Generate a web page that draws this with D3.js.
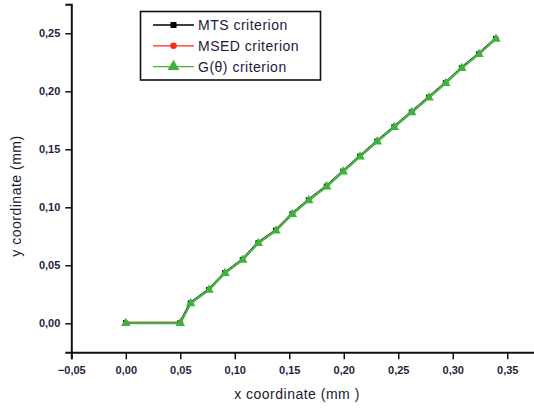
<!DOCTYPE html>
<html>
<head>
<meta charset="utf-8">
<script src="https://cdn.jsdelivr.net/npm/d3@7/dist/d3.min.js"></script>
<style>
  html, body { margin: 0; padding: 0; background: #fff; }
  svg { display: block; }
  .tick text { font-family: "Liberation Sans", Arial, sans-serif; font-weight: bold; font-size: 11px; fill: #1f1f3f; }
</style>
</head>
<body>
<svg id="chart" width="534" height="408"></svg>
<script>
// Crack path coordinates (mm) predicted by each criterion
const seriesNames = ["MTS criterion", "MSED criterion", "G(\u03b8) criterion"];
const mtsX  = [-0.0008, 0.0492, 0.0587, 0.0755, 0.0902, 0.1064, 0.1208, 0.137, 0.152, 0.167, 0.1835, 0.1987, 0.2141, 0.2299, 0.2455, 0.2615, 0.2774, 0.2927, 0.3074, 0.3232, 0.3388];
const mtsY  = [0.0009, 0.0009, 0.018, 0.0296, 0.044, 0.0555, 0.0699, 0.0807, 0.0949, 0.1068, 0.1187, 0.1316, 0.1445, 0.1575, 0.1699, 0.1826, 0.1954, 0.2078, 0.2207, 0.2328, 0.246];
const msedX = [0.0008, 0.0508, 0.0603, 0.0771, 0.0918, 0.108, 0.1224, 0.1386, 0.1536, 0.1686, 0.1851, 0.2003, 0.2157, 0.2315, 0.2471, 0.2631, 0.279, 0.2943, 0.309, 0.3248, 0.3404];
const msedY = [0.0008, 0.0008, 0.0179, 0.0295, 0.0439, 0.0554, 0.0698, 0.0806, 0.0948, 0.1067, 0.1186, 0.1315, 0.1444, 0.1574, 0.1698, 0.1825, 0.1953, 0.2077, 0.2206, 0.2327, 0.2459];
const gX    = [0, 0.05, 0.0595, 0.0763, 0.091, 0.1072, 0.1216, 0.1378, 0.1528, 0.1678, 0.1843, 0.1995, 0.2149, 0.2307, 0.2463, 0.2623, 0.2782, 0.2935, 0.3082, 0.324, 0.3396];
const gY    = [0, 0, 0.0171, 0.0287, 0.0431, 0.0546, 0.069, 0.0798, 0.094, 0.1059, 0.1178, 0.1307, 0.1436, 0.1566, 0.169, 0.1817, 0.1945, 0.2069, 0.2198, 0.2319, 0.2451];
const xTicks = [-0.05, 0, 0.05, 0.10, 0.15, 0.20, 0.25, 0.30, 0.35];
const yTicks = [0, 0.05, 0.10, 0.15, 0.20, 0.25];
const xLabel = "x coordinate (mm )";
const yLabel = "y coordinate (mm)";

const svg = d3.select("#chart");
const x = d3.scaleLinear().domain([-0.05, 0.375]).range([71.3, 534.5]);
const y = d3.scaleLinear().domain([-0.025, 0.275]).range([352.3, 4.3]);
const fmt = d => d3.format(".2f")(d).replace(".", ",");

// minor ticks
const xMinor = d3.range(-0.025, 0.375, 0.05);
const yMinor = d3.range(0.025, 0.275, 0.05);

const gx = svg.append("g").attr("transform", `translate(0,${y(-0.025)})`);
gx.call(d3.axisBottom(x).tickValues(xMinor).tickSize(4).tickFormat(""));
gx.call(d3.axisBottom(x).tickValues(xTicks).tickSize(7).tickPadding(7).tickFormat(fmt));
gx.selectAll(".domain").attr("stroke", "#111").attr("stroke-width", 2);
gx.selectAll("line").attr("stroke", "#111").attr("stroke-width", 1.5);

const gy = svg.append("g").attr("transform", `translate(${x(-0.05)},0)`);
gy.call(d3.axisLeft(y).tickValues(yMinor).tickSize(4).tickFormat(""));
gy.call(d3.axisLeft(y).tickValues(yTicks).tickSize(6).tickPadding(5).tickFormat(fmt));
gy.selectAll(".domain").attr("stroke", "#111").attr("stroke-width", 2);
gy.selectAll("line").attr("stroke", "#111").attr("stroke-width", 1.5);

// axis titles
svg.append("text")
  .attr("x", 297).attr("y", 399)
  .attr("text-anchor", "middle")
  .style("font-family", "Liberation Sans, Arial, sans-serif")
  .style("font-size", "14px").style("letter-spacing", "0.5px")
  .attr("fill", "#1a1a2e")
  .text(xLabel);
svg.append("text")
  .attr("transform", "translate(21,196) rotate(-90)")
  .attr("text-anchor", "middle")
  .style("font-family", "Liberation Sans, Arial, sans-serif")
  .style("font-size", "14px").style("letter-spacing", "0.5px")
  .attr("fill", "#1a1a2e")
  .text(yLabel);

const series = [
  { xs: mtsX,  ys: mtsY,  color: "#000000", shape: "square",   width: 0.8 },
  { xs: msedX, ys: msedY, color: "#ff2a1a", shape: "circle",   width: 0.8 },
  { xs: gX,    ys: gY,    color: "#3cb43c", shape: "triangle", width: 2.0 }
];

const line = d3.line().x(d => x(d[0])).y(d => y(d[1]));
const symbolOf = (shape, size) => {
  const t = shape === "square" ? d3.symbolSquare : shape === "circle" ? d3.symbolCircle : d3.symbolTriangle;
  return d3.symbol().type(t).size(size)();
};
const markSize = { square: 16, circle: 14, triangle: 40 };

series.forEach(s => {
  const pts = s.xs.map((v, i) => [v, s.ys[i]]);
  svg.append("path").datum(pts)
    .attr("fill", "none").attr("stroke", s.color).attr("stroke-width", s.width)
    .attr("d", line);
  svg.append("g").selectAll("path").data(pts).join("path")
    .attr("transform", d => `translate(${x(d[0])},${y(d[1])})`)
    .attr("d", symbolOf(s.shape, markSize[s.shape]))
    .attr("fill", s.color);
});

// legend
const lg = svg.append("g");
lg.append("rect").attr("x", 140.5).attr("y", 11.5).attr("width", 180).attr("height", 68.5)
  .attr("fill", "#fff").attr("stroke", "#111").attr("stroke-width", 1.6);
const legendSize = { square: 36, circle: 34, triangle: 60 };
series.forEach((s, i) => {
  const ly = 25 + i * 20.8;
  lg.append("line").attr("x1", 153).attr("x2", 194).attr("y1", ly).attr("y2", ly)
    .attr("stroke", s.color).attr("stroke-width", 1.3);
  lg.append("path").attr("transform", `translate(173.5,${ly})`)
    .attr("d", symbolOf(s.shape, legendSize[s.shape])).attr("fill", s.color);
  lg.append("text").attr("x", 198).attr("y", ly + 5)
    .style("font-family", "Liberation Sans, Arial, sans-serif")
    .style("font-size", "14px").style("letter-spacing", "0.5px")
    .attr("fill", "#1a1a3e")
    .text(seriesNames[i]);
});
</script>
</body>
</html>
